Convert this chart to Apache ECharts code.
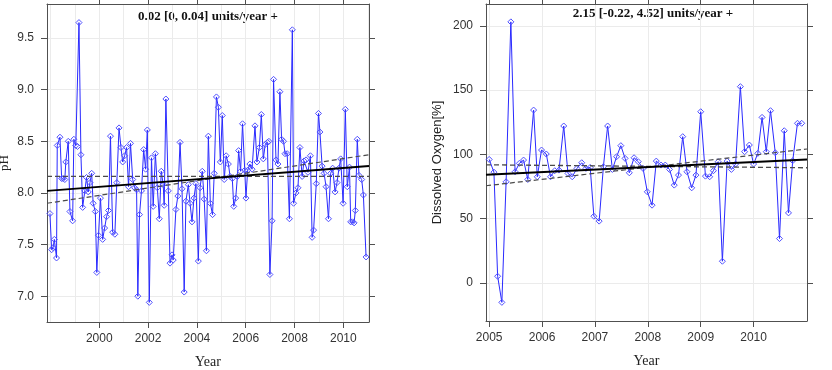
<!DOCTYPE html>
<html>
<head>
<meta charset="utf-8">
<script src="https://cdn.jsdelivr.net/npm/echarts@6/dist/echarts.min.js"></script>
<style>
html, body { margin: 0; padding: 0; background: #fff; }
#chart { width: 832px; height: 370px; }
</style>
</head>
<body>
<div id="chart"></div>
<script>
// pH series (decimal year, value)
var phYears = [1997.98, 1998.05, 1998.11, 1998.16, 1998.25, 1998.28, 1998.39, 1998.46, 1998.52, 1998.59,
    1998.63, 1998.73, 1998.80, 1998.91, 1998.96, 1999.04, 1999.11, 1999.17, 1999.25, 1999.32,
    1999.41, 1999.48, 1999.55, 1999.62, 1999.69, 1999.75, 1999.84, 1999.90, 1999.97, 2000.05,
    2000.14, 2000.22, 2000.30, 2000.38, 2000.46, 2000.55, 2000.64, 2000.72, 2000.81, 2000.89,
    2000.96, 2001.04, 2001.12, 2001.20, 2001.28, 2001.37, 2001.45, 2001.53, 2001.58, 2001.65,
    2001.73, 2001.82, 2001.90, 2001.97, 2002.05, 2002.14, 2002.21, 2002.30, 2002.38, 2002.46,
    2002.54, 2002.62, 2002.66, 2002.73, 2002.83, 2002.90, 2002.98, 2003.03, 2003.14, 2003.22,
    2003.31, 2003.39, 2003.48, 2003.55, 2003.65, 2003.72, 2003.80, 2003.88, 2003.96, 2004.06,
    2004.13, 2004.22, 2004.30, 2004.39, 2004.47, 2004.55, 2004.64, 2004.71, 2004.80, 2004.88,
    2004.96, 2005.04, 2005.12, 2005.20, 2005.29, 2005.36, 2005.45, 2005.51, 2005.59, 2005.66,
    2005.71, 2005.79, 2005.87, 2005.96, 2006.01, 2006.08, 2006.17, 2006.26, 2006.38, 2006.46,
    2006.56, 2006.64, 2006.72, 2006.80, 2006.89, 2006.95, 2006.99, 2007.08, 2007.14, 2007.24,
    2007.32, 2007.40, 2007.47, 2007.55, 2007.61, 2007.70, 2007.79, 2007.91, 2007.96, 2008.06,
    2008.14, 2008.22, 2008.31, 2008.39, 2008.47, 2008.55, 2008.65, 2008.72, 2008.78, 2008.89,
    2008.98, 2009.04, 2009.13, 2009.21, 2009.29, 2009.39, 2009.48, 2009.56, 2009.66, 2009.74,
    2009.82, 2009.89, 2009.99, 2010.08, 2010.16, 2010.25, 2010.30, 2010.38, 2010.44, 2010.49,
    2010.57, 2010.64, 2010.75, 2010.82, 2010.93];
var phValues = [7.80, 7.45, 7.47, 7.55, 7.37, 8.46, 8.54, 8.14, 8.14, 8.13,
    8.30, 8.50, 7.82, 7.73, 8.52, 8.46, 8.45, 9.65, 8.37, 7.86,
    8.02, 8.15, 8.01, 8.10, 8.19, 7.90, 7.82, 7.23, 7.59, 7.95,
    7.55, 7.66, 7.77, 7.83, 8.55, 7.62, 7.60, 8.10, 8.63, 8.44,
    8.30, 8.36, 8.44, 8.06, 8.48, 8.13, 8.05, 8.03, 7.00, 7.79,
    8.02, 8.42, 8.23, 8.61, 6.94, 8.34, 7.87, 8.38, 8.05, 7.75,
    8.21, 8.08, 7.88, 8.91, 8.02, 7.32, 7.40, 7.35, 7.84, 7.97,
    8.49, 8.04, 7.04, 7.92, 8.08, 7.90, 7.72, 7.95, 8.09, 7.34,
    8.05, 8.21, 7.94, 7.44, 8.55, 7.90, 7.79, 8.19, 8.93, 8.83,
    8.30, 8.75, 8.13, 8.36, 8.28, 8.16, 8.14, 7.87, 7.95, 8.16,
    8.41, 8.21, 8.67, 8.22, 7.95, 8.22, 8.28, 8.23, 8.65, 8.30,
    8.44, 8.76, 8.33, 8.47, 8.49, 8.50, 7.21, 7.73, 9.10, 8.32,
    8.28, 8.98, 8.52, 8.50, 8.38, 8.38, 7.75, 9.58, 7.90, 8.00,
    8.05, 8.44, 8.16, 8.31, 8.32, 8.20, 8.36, 7.57, 7.64, 8.09,
    8.77, 8.59, 8.26, 8.19, 8.06, 7.75, 8.19, 8.24, 8.01, 8.10,
    8.24, 8.33, 7.90, 8.81, 8.06, 8.25, 7.72, 7.72, 7.71, 7.83,
    8.52, 8.17, 8.13, 7.98, 7.38];
var phTrend = [[1997.86, 8.02], [2011.05, 8.26]];
var phLower = [[1997.86, 8.16], [2011.05, 8.16]];
var phUpper = [[1997.86, 7.90], [2011.05, 8.37]];
var phTicks = [7.0, 7.5, 8.0, 8.5, 9.0, 9.5];
var phYearTicks = [2000, 2002, 2004, 2006, 2008, 2010];
var phGridYears = [1998, 1999, 2000, 2001, 2002, 2003, 2004, 2005, 2006, 2007, 2008, 2009, 2010, 2011];

// Dissolved oxygen series
var doYears = [2005.00, 2005.09, 2005.16, 2005.24, 2005.32, 2005.41, 2005.49, 2005.57, 2005.65, 2005.73,
    2005.84, 2005.91, 2005.99, 2006.08, 2006.16, 2006.24, 2006.32, 2006.41, 2006.49, 2006.57,
    2006.66, 2006.75, 2006.83, 2006.91, 2006.98, 2007.08, 2007.16, 2007.24, 2007.33, 2007.41,
    2007.49, 2007.57, 2007.65, 2007.74, 2007.82, 2007.91, 2007.99, 2008.08, 2008.16, 2008.25,
    2008.33, 2008.41, 2008.50, 2008.58, 2008.66, 2008.74, 2008.83, 2008.91, 2009.00, 2009.09,
    2009.17, 2009.24, 2009.33, 2009.41, 2009.50, 2009.58, 2009.66, 2009.75, 2009.83, 2009.92,
    2010.00, 2010.08, 2010.16, 2010.24, 2010.32, 2010.41, 2010.49, 2010.58, 2010.66, 2010.74,
    2010.83, 2010.91];
var doValues = [96.1, 86.2, 5.2, -15.1, 78.7, 203.1, 86.5, 93.0, 95.6, 80.5,
    134.5, 82.6, 103.4, 100.3, 82.6, 87.3, 87.8, 122.1, 85.2, 82.6,
    89.1, 93.5, 89.1, 89.9, 51.9, 48.1, 90.4, 122.1, 88.3, 98.2,
    106.8, 96.9, 85.7, 97.4, 94.3, 89.1, 70.9, 60.5, 94.8, 91.7,
    91.7, 88.3, 76.1, 83.9, 113.8, 86.5, 74.0, 83.9, 133.2, 83.1,
    82.6, 87.3, 94.3, 16.9, 94.8, 88.3, 92.5, 152.7, 102.1, 107.3,
    92.5, 100.8, 128.8, 102.1, 134.0, 101.3, 34.5, 118.4, 54.5, 95.1,
    124.2, 124.2];
var doTrend = [[2004.94, 84.2], [2011.01, 96.1]];
var doLower = [[2004.94, 91.9], [2011.01, 89.6]];
var doUpper = [[2004.94, 75.6], [2011.01, 104.2]];
var doTicks = [0, 50, 100, 150, 200];
var doYearTicks = [2005, 2006, 2007, 2008, 2009, 2010];

var AXIS_COLOR = '#505050';
var GRID_COLOR = '#ebebeb';
var LABEL_FONT = '"Liberation Sans Narrow", "Liberation Sans", Arial, sans-serif';
var SERIF = '"Liberation Serif", "Times New Roman", serif';

function pairs(xs, ys) {
    return xs.map(function (x, i) { return [x, ys[i]]; });
}

function xAxes(grid, min, max, labelVals, gridVals) {
    return [
        {   // bottom, labelled
            gridIndex: grid, type: 'value', min: min, max: max, position: 'bottom',
            name: 'Year', nameLocation: 'middle', nameGap: 33,
            nameTextStyle: { fontFamily: SERIF, fontSize: 14, color: '#222' },
            axisLine: { onZero: false, lineStyle: { color: AXIS_COLOR, width: 1 } },
            axisTick: { customValues: labelVals, length: 6, lineStyle: { color: AXIS_COLOR } },
            axisLabel: { customValues: labelVals, margin: 11, color: '#333', fontSize: 12, fontFamily: LABEL_FONT,
                formatter: function (v) { return String(v); } },
            splitLine: { show: false }
        },
        {   // top mirror
            gridIndex: grid, type: 'value', min: min, max: max, position: 'top',
            axisLine: { onZero: false, lineStyle: { color: AXIS_COLOR, width: 1 } },
            axisTick: { customValues: labelVals, length: 6, lineStyle: { color: AXIS_COLOR } },
            axisLabel: { show: false },
            splitLine: { show: false }
        },
        {   // vertical grid lines only
            gridIndex: grid, type: 'value', min: min, max: max,
            axisLine: { show: false, onZero: false },
            axisTick: { show: false, customValues: gridVals },
            axisLabel: { show: false },
            splitLine: { show: true, lineStyle: { color: GRID_COLOR, width: 1 } }
        }
    ];
}

function yAxes(grid, min, max, vals, fmt, title, titleFont, gap) {
    return [
        {
            gridIndex: grid, type: 'value', min: min, max: max, position: 'left',
            name: title, nameLocation: 'middle', nameGap: gap, nameRotate: 90,
            nameTextStyle: { fontFamily: titleFont, fontSize: 13, color: '#222' },
            axisLine: { onZero: false, lineStyle: { color: AXIS_COLOR, width: 1 } },
            axisTick: { customValues: vals, length: 6, lineStyle: { color: AXIS_COLOR } },
            axisLabel: { customValues: vals, margin: 13, color: '#333', fontSize: 12, fontFamily: LABEL_FONT, formatter: fmt },
            splitLine: { show: true, lineStyle: { color: GRID_COLOR, width: 1 } }
        },
        {
            gridIndex: grid, type: 'value', min: min, max: max, position: 'right',
            axisLine: { onZero: false, lineStyle: { color: AXIS_COLOR, width: 1 } },
            axisTick: { customValues: vals, length: 6, lineStyle: { color: AXIS_COLOR } },
            axisLabel: { show: false },
            splitLine: { show: false }
        }
    ];
}

function dataSeries(xi, yi, data) {
    return {
        type: 'line', xAxisIndex: xi, yAxisIndex: yi, data: data,
        symbol: 'diamond', symbolSize: 6, showSymbol: true,
        lineStyle: { color: '#2a2aff', width: 1 },
        itemStyle: { color: 'rgba(255,255,255,0)', borderColor: '#5050ff', borderWidth: 1 },
        silent: true, animation: false, z: 3
    };
}

function trendSeries(xi, yi, data, width, dash, color) {
    return {
        type: 'line', xAxisIndex: xi, yAxisIndex: yi, data: data,
        symbol: 'none', lineStyle: { color: color, width: width, type: dash },
        silent: true, animation: false, z: 4
    };
}

var chart = echarts.init(document.getElementById('chart'));
chart.setOption({
    backgroundColor: '#fff',
    animation: false,
    grid: [
        { left: 47, top: 4, width: 322, height: 318, outerBoundsMode: 'none' },
        { left: 486, top: 4, width: 321, height: 317, outerBoundsMode: 'none' }
    ],
    xAxis: xAxes(0, 1997.86, 2011.05, phYearTicks, phGridYears)
        .concat(xAxes(1, 2004.94, 2011.01, doYearTicks, doYearTicks)),
    yAxis: yAxes(0, 6.75, 9.83, phTicks, function (v) { return v.toFixed(1); }, 'pH', SERIF, 36)
        .concat(yAxes(1, -29.6, 217, doTicks, function (v) { return String(v); }, 'Dissolved Oxygen[%]', '"Liberation Sans", Arial, sans-serif', 42)),
    graphic: [
        { type: 'text', x: 208, y: 17, style: { text: '0.02 [0, 0.04] units/year +', font: 'bold 13px ' + SERIF, fill: '#111', align: 'center', verticalAlign: 'middle', textAlign: 'center', textVerticalAlign: 'middle' } },
        { type: 'text', x: 653, y: 14, style: { text: '2.15 [-0.22, 4.52] units/year +', font: 'bold 13px ' + SERIF, fill: '#111', align: 'center', verticalAlign: 'middle', textAlign: 'center', textVerticalAlign: 'middle' } }
    ],
    series: [
        dataSeries(0, 0, pairs(phYears, phValues)),
        trendSeries(0, 0, phLower, 1.3, [5, 3], '#4a4a4a'),
        trendSeries(0, 0, phUpper, 1.2, [5, 3], '#4a4a4a'),
        trendSeries(0, 0, phTrend, 2, 'solid', '#000'),
        dataSeries(3, 2, pairs(doYears, doValues)),
        trendSeries(3, 2, doLower, 1.3, [5, 3], '#4a4a4a'),
        trendSeries(3, 2, doUpper, 1.2, [5, 3], '#4a4a4a'),
        trendSeries(3, 2, doTrend, 2, 'solid', '#000')
    ]
});

window.onresize = function () {
    chart.resize();
};
</script>
</body>
</html>
